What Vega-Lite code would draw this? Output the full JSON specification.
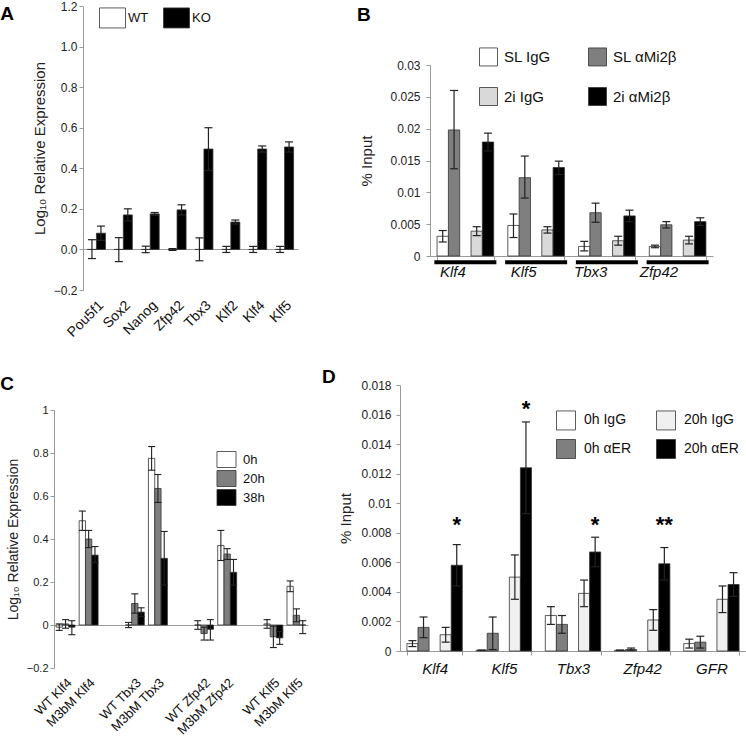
{
  "$schema": "https://vega.github.io/schema/vega-lite/v6.json",
  "padding": {"left": 0, "top": 0, "right": 0, "bottom": 0},
  "config": {
    "view": {"stroke": null},
    "font": "Liberation Sans",
    "axis": {"labelFont": "Liberation Sans", "titleFont": "Liberation Sans", "labelColor": "#222", "titleColor": "#222", "domainColor": "#9a9a9a", "tickColor": "#9a9a9a", "grid": false, "titleFontWeight": "normal", "labelFontSize": 12, "tickSize": 4, "labelOverlap": false},
    "axisY": {"labelOverlap": false, "labelSeparation": -40},
    "axisQuantitative": {"labelOverlap": false},
    "legend": {"labelFont": "Liberation Sans", "labelColor": "#111"},
    "title": {"font": "Liberation Sans", "fontSize": 19, "fontWeight": "bold", "anchor": "start", "color": "#000"},
    "bar": {"stroke": "#333", "strokeWidth": 0.8},
    "tick": {"opacity": 1},
    "rule": {"opacity": 1}
  },
  "datasets": {
    "a": [
      {"gene": "Pou5f1", "series": "WT", "value": 0, "lo": -0.045, "hi": 0.048},
      {"gene": "Pou5f1", "series": "KO", "value": 0.08, "lo": 0.045, "hi": 0.115},
      {"gene": "Sox2", "series": "WT", "value": 0, "lo": -0.06, "hi": 0.058},
      {"gene": "Sox2", "series": "KO", "value": 0.17, "lo": 0.14, "hi": 0.2},
      {"gene": "Nanog", "series": "WT", "value": 0, "lo": -0.016, "hi": 0.016},
      {"gene": "Nanog", "series": "KO", "value": 0.175, "lo": 0.168, "hi": 0.182},
      {"gene": "Zfp42", "series": "WT", "value": 0, "lo": -0.005, "hi": 0.004},
      {"gene": "Zfp42", "series": "KO", "value": 0.195, "lo": 0.17, "hi": 0.22},
      {"gene": "Tbx3", "series": "WT", "value": 0, "lo": -0.056, "hi": 0.057},
      {"gene": "Tbx3", "series": "KO", "value": 0.495, "lo": 0.39, "hi": 0.6},
      {"gene": "Klf2", "series": "WT", "value": 0, "lo": -0.015, "hi": 0.015},
      {"gene": "Klf2", "series": "KO", "value": 0.135, "lo": 0.125, "hi": 0.145},
      {"gene": "Klf4", "series": "WT", "value": 0, "lo": -0.015, "hi": 0.015},
      {"gene": "Klf4", "series": "KO", "value": 0.495, "lo": 0.48, "hi": 0.51},
      {"gene": "Klf5", "series": "WT", "value": 0, "lo": -0.015, "hi": 0.015},
      {"gene": "Klf5", "series": "KO", "value": 0.505, "lo": 0.48, "hi": 0.53}
    ],
    "b": [
      {"gene": "Klf4", "series": "SL IgG", "value": 0.0031, "lo": 0.0022, "hi": 0.004},
      {"gene": "Klf4", "series": "SL αMi2β", "value": 0.0198, "lo": 0.0137, "hi": 0.026},
      {"gene": "Klf4", "series": "2i IgG", "value": 0.0039, "lo": 0.0032, "hi": 0.0046},
      {"gene": "Klf4", "series": "2i αMi2β", "value": 0.0179, "lo": 0.0165, "hi": 0.0193},
      {"gene": "Klf5", "series": "SL IgG", "value": 0.0048, "lo": 0.0029, "hi": 0.0066},
      {"gene": "Klf5", "series": "SL αMi2β", "value": 0.0123, "lo": 0.0091, "hi": 0.0157},
      {"gene": "Klf5", "series": "2i IgG", "value": 0.0041, "lo": 0.0036, "hi": 0.0046},
      {"gene": "Klf5", "series": "2i αMi2β", "value": 0.0139, "lo": 0.0128, "hi": 0.0149},
      {"gene": "Tbx3", "series": "SL IgG", "value": 0.0015, "lo": 0.0008, "hi": 0.0023},
      {"gene": "Tbx3", "series": "SL αMi2β", "value": 0.0068, "lo": 0.0053, "hi": 0.0083},
      {"gene": "Tbx3", "series": "2i IgG", "value": 0.0024, "lo": 0.0017, "hi": 0.0031},
      {"gene": "Tbx3", "series": "2i αMi2β", "value": 0.0063, "lo": 0.0054, "hi": 0.0072},
      {"gene": "Zfp42", "series": "SL IgG", "value": 0.0015, "lo": 0.0013, "hi": 0.0017},
      {"gene": "Zfp42", "series": "SL αMi2β", "value": 0.0049, "lo": 0.0044, "hi": 0.0054},
      {"gene": "Zfp42", "series": "2i IgG", "value": 0.0025, "lo": 0.0019, "hi": 0.0031},
      {"gene": "Zfp42", "series": "2i αMi2β", "value": 0.0054, "lo": 0.0048, "hi": 0.006}
    ],
    "c": [
      {"slot": "WT Klf4", "series": "0h", "value": -0.01, "lo": -0.025, "hi": 0.005},
      {"slot": "WT Klf4", "series": "20h", "value": 0.005, "lo": -0.015, "hi": 0.025},
      {"slot": "WT Klf4", "series": "38h", "value": -0.01, "lo": -0.045, "hi": 0.02},
      {"slot": "M3bM Klf4", "series": "0h", "value": 0.485, "lo": 0.44, "hi": 0.53},
      {"slot": "M3bM Klf4", "series": "20h", "value": 0.4, "lo": 0.36, "hi": 0.44},
      {"slot": "M3bM Klf4", "series": "38h", "value": 0.325, "lo": 0.29, "hi": 0.365},
      {"slot": "WT Tbx3", "series": "0h", "value": 0.0, "lo": -0.012, "hi": 0.012},
      {"slot": "WT Tbx3", "series": "20h", "value": 0.1, "lo": 0.055, "hi": 0.145},
      {"slot": "WT Tbx3", "series": "38h", "value": 0.06, "lo": 0.04, "hi": 0.08},
      {"slot": "M3bM Tbx3", "series": "0h", "value": 0.775, "lo": 0.72, "hi": 0.83},
      {"slot": "M3bM Tbx3", "series": "20h", "value": 0.635, "lo": 0.57, "hi": 0.7},
      {"slot": "M3bM Tbx3", "series": "38h", "value": 0.31, "lo": 0.185, "hi": 0.435},
      {"slot": "WT Zfp42", "series": "0h", "value": 0.0, "lo": -0.02, "hi": 0.02},
      {"slot": "WT Zfp42", "series": "20h", "value": -0.04, "lo": -0.07, "hi": -0.01},
      {"slot": "WT Zfp42", "series": "38h", "value": -0.02, "lo": -0.07, "hi": 0.025},
      {"slot": "M3bM Zfp42", "series": "0h", "value": 0.37, "lo": 0.3, "hi": 0.44},
      {"slot": "M3bM Zfp42", "series": "20h", "value": 0.33, "lo": 0.305, "hi": 0.355},
      {"slot": "M3bM Zfp42", "series": "38h", "value": 0.245, "lo": 0.185, "hi": 0.305},
      {"slot": "WT Klf5", "series": "0h", "value": 0.005, "lo": -0.015, "hi": 0.025},
      {"slot": "WT Klf5", "series": "20h", "value": -0.055, "lo": -0.105, "hi": -0.005},
      {"slot": "WT Klf5", "series": "38h", "value": -0.06, "lo": -0.09, "hi": -0.03},
      {"slot": "M3bM Klf5", "series": "0h", "value": 0.18, "lo": 0.155, "hi": 0.205},
      {"slot": "M3bM Klf5", "series": "20h", "value": 0.045, "lo": 0.015, "hi": 0.075},
      {"slot": "M3bM Klf5", "series": "38h", "value": 0.0, "lo": -0.04, "hi": 0.02}
    ],
    "d": [
      {"gene": "Klf4", "series": "0h IgG", "value": 0.0005, "lo": 0.0003, "hi": 0.0007},
      {"gene": "Klf4", "series": "0h αER", "value": 0.0016, "lo": 0.0009, "hi": 0.0023},
      {"gene": "Klf4", "series": "20h IgG", "value": 0.0011, "lo": 0.0006, "hi": 0.0016},
      {"gene": "Klf4", "series": "20h αER", "value": 0.0058, "lo": 0.0044, "hi": 0.0072},
      {"gene": "Klf5", "series": "0h IgG", "value": 0.00005, "lo": 0.00005, "hi": 0.00005},
      {"gene": "Klf5", "series": "0h αER", "value": 0.0012, "lo": 0.0001, "hi": 0.0023},
      {"gene": "Klf5", "series": "20h IgG", "value": 0.005, "lo": 0.0035, "hi": 0.0065},
      {"gene": "Klf5", "series": "20h αER", "value": 0.0124, "lo": 0.0093, "hi": 0.0155},
      {"gene": "Tbx3", "series": "0h IgG", "value": 0.0024, "lo": 0.0018, "hi": 0.003},
      {"gene": "Tbx3", "series": "0h αER", "value": 0.0018, "lo": 0.0012, "hi": 0.0024},
      {"gene": "Tbx3", "series": "20h IgG", "value": 0.0039, "lo": 0.003, "hi": 0.0048},
      {"gene": "Tbx3", "series": "20h αER", "value": 0.0067, "lo": 0.0057, "hi": 0.0077},
      {"gene": "Zfp42", "series": "0h IgG", "value": 0.00005, "lo": 0.00005, "hi": 0.00005},
      {"gene": "Zfp42", "series": "0h αER", "value": 0.0001, "lo": 0.00005, "hi": 0.0002},
      {"gene": "Zfp42", "series": "20h IgG", "value": 0.0021, "lo": 0.0014, "hi": 0.0028},
      {"gene": "Zfp42", "series": "20h αER", "value": 0.0059, "lo": 0.0048, "hi": 0.007},
      {"gene": "GFR", "series": "0h IgG", "value": 0.0005, "lo": 0.0002, "hi": 0.0008},
      {"gene": "GFR", "series": "0h αER", "value": 0.0006, "lo": 0.0002, "hi": 0.001},
      {"gene": "GFR", "series": "20h IgG", "value": 0.0035, "lo": 0.0026, "hi": 0.0044},
      {"gene": "GFR", "series": "20h αER", "value": 0.0045, "lo": 0.0037, "hi": 0.0053}
    ],
    "dstars": [
      {"gene": "Klf4", "series": "20h αER", "y": 0.0085, "label": "*"},
      {"gene": "Klf5", "series": "20h αER", "y": 0.0164, "label": "*"},
      {"gene": "Tbx3", "series": "20h αER", "y": 0.0085, "label": "*"},
      {"gene": "Zfp42", "series": "20h αER", "y": 0.0085, "label": "**"}
    ]
  },
  "bounds": "flush",
  "spacing": 379,
  "resolve": {"scale": {"fill": "independent", "xOffset": "independent", "x": "independent", "y": "independent"}, "legend": {"fill": "independent"}},
  "vconcat": [
    {
      "bounds": "flush",
      "spacing": 28,
      "resolve": {"scale": {"fill": "independent", "xOffset": "independent", "x": "independent", "y": "independent"}, "legend": {"fill": "independent"}},
      "hconcat": [
        {"width": 1, "height": 1, "data": {"values": []}, "mark": {"type": "point", "opacity": 0}, "encoding": {}},
        {
          "bounds": "flush",
          "spacing": 132,
          "resolve": {"scale": {"fill": "independent", "xOffset": "independent", "x": "independent", "y": "independent"}, "legend": {"fill": "independent"}},
          "hconcat": [
            {
              "width": 215, "height": 284,
              "title": {"text": "A", "dx": -32, "dy": 24, "offset": 0},
              "data": {"name": "a"},
              "layer": [
                {
                  "mark": {"type": "bar"},
                  "encoding": {
                    "x": {"field": "gene", "type": "nominal", "sort": ["Pou5f1", "Sox2", "Nanog", "Zfp42", "Tbx3", "Klf2", "Klf4", "Klf5"], "scale": {"paddingInner": 0.33, "paddingOuter": 0.165}, "axis": {"title": null, "labelAngle": -45, "domain": false, "ticks": false, "labelFontSize": 14, "labelPadding": 8, "labelColor": "#111"}},
                    "xOffset": {"field": "series", "type": "nominal", "scale": {"domain": ["WT", "KO"]}},
                    "y": {"field": "value", "type": "quantitative", "scale": {"domain": [-0.2, 1.2], "nice": false}, "axis": {"values": [-0.2, 0, 0.2, 0.4, 0.6, 0.8, 1.0, 1.2], "format": ".1f", "labelOverlap": false, "title": "Log₁₀ Relative Expression", "titleFontSize": 15, "titlePadding": 6, "grid": true, "gridColor": "#9a9a9a", "gridOpacity": {"condition": {"test": "datum.value === 0", "value": 1}, "value": 0}}},
                    "fill": {"field": "series", "type": "nominal", "scale": {"domain": ["WT", "KO"], "range": ["#ffffff", "#000000"]}, "legend": {"title": null, "orient": "none", "legendX": 19, "legendY": 1, "direction": "horizontal", "columns": 2, "symbolType": "M-1.3,-1H1.3V1H-1.3Z", "symbolSize": 400, "symbolStrokeColor": "#333", "symbolStrokeWidth": 1, "labelFontSize": 13, "labelOffset": 5, "columnPadding": 12}}
                  }
                },
                {
                  "mark": {"type": "rule", "color": "#222", "strokeWidth": 1.2},
                  "encoding": {
                    "x": {"field": "gene", "type": "nominal", "sort": ["Pou5f1", "Sox2", "Nanog", "Zfp42", "Tbx3", "Klf2", "Klf4", "Klf5"]},
                    "xOffset": {"field": "series", "type": "nominal"},
                    "y": {"field": "lo", "type": "quantitative", "title": "Log₁₀ Relative Expression"},
                    "y2": {"field": "hi"}
                  }
                },
                {
                  "mark": {"type": "tick", "color": "#222", "thickness": 1.2, "size": 8},
                  "encoding": {
                    "x": {"field": "gene", "type": "nominal", "sort": ["Pou5f1", "Sox2", "Nanog", "Zfp42", "Tbx3", "Klf2", "Klf4", "Klf5"]},
                    "xOffset": {"field": "series", "type": "nominal"},
                    "y": {"field": "lo", "type": "quantitative", "title": "Log₁₀ Relative Expression"}
                  }
                },
                {
                  "mark": {"type": "tick", "color": "#222", "thickness": 1.2, "size": 8},
                  "encoding": {
                    "x": {"field": "gene", "type": "nominal", "sort": ["Pou5f1", "Sox2", "Nanog", "Zfp42", "Tbx3", "Klf2", "Klf4", "Klf5"]},
                    "xOffset": {"field": "series", "type": "nominal"},
                    "y": {"field": "hi", "type": "quantitative", "title": "Log₁₀ Relative Expression"}
                  }
                }
              ]
            },
            {
              "bounds": "flush",
              "spacing": 58,
              "resolve": {"scale": {"fill": "independent", "xOffset": "independent", "x": "independent", "y": "independent"}, "legend": {"fill": "independent"}},
              "vconcat": [
                {"width": 1, "height": 1, "data": {"values": []}, "mark": {"type": "point", "opacity": 0}, "encoding": {}},
                {
                  "width": 283, "height": 191,
                  "title": {"text": "B", "dx": -3, "offset": 22},
                  "data": {"name": "b"},
                  "layer": [
                    {
                      "transform": [{"filter": "datum.series === 'SL IgG'"}],
                      "mark": {"type": "tick", "color": "#000", "thickness": 4, "size": 62},
                      "encoding": {
                        "x": {"field": "gene", "type": "nominal", "sort": ["Klf4", "Klf5", "Tbx3", "Zfp42"]},
                        "y": {"datum": -0.001, "type": "quantitative", "axis": {"values": [0, 0.005, 0.01, 0.015, 0.02, 0.025, 0.03], "format": "~g", "labelOverlap": false, "title": "% Input"}}
                      }
                    },
                    {
                      "mark": {"type": "bar"},
                      "encoding": {
                        "x": {"field": "gene", "type": "nominal", "sort": ["Klf4", "Klf5", "Tbx3", "Zfp42"], "scale": {"paddingInner": 0.2, "paddingOuter": 0.1}, "axis": {"title": null, "labelAngle": 0, "labelFontSize": 15, "labelFontStyle": "italic", "labelColor": "#111", "tickBand": "extent", "labelPadding": 11}},
                        "xOffset": {"field": "series", "type": "nominal", "scale": {"domain": ["SL IgG", "SL αMi2β", "gap", "2i IgG", "2i αMi2β"], "paddingInner": 0, "paddingOuter": 0}},
                        "y": {"field": "value", "type": "quantitative", "scale": {"domain": [0, 0.03], "nice": false}, "axis": {"values": [0, 0.005, 0.01, 0.015, 0.02, 0.025, 0.03], "format": "~g", "labelOverlap": false, "title": "% Input", "titleFontSize": 15, "titlePadding": 15, "labelPadding": 6}},
                        "fill": {"field": "series", "type": "nominal", "scale": {"domain": ["SL IgG", "2i IgG", "SL αMi2β", "2i αMi2β"], "range": ["#ffffff", "#d9d9d9", "#7f7f7f", "#000000"]}, "legend": {"title": null, "orient": "none", "legendX": 49, "legendY": -18, "columns": 2, "symbolType": "square", "symbolSize": 324, "symbolStrokeColor": "#333", "symbolStrokeWidth": 1, "labelFontSize": 15, "labelOffset": 6, "rowPadding": 17, "columnPadding": 35}}
                      }
                    },
                    {
                      "mark": {"type": "rule", "color": "#222", "strokeWidth": 1.2},
                      "encoding": {
                        "x": {"field": "gene", "type": "nominal", "sort": ["Klf4", "Klf5", "Tbx3", "Zfp42"]},
                        "xOffset": {"field": "series", "type": "nominal"},
                        "y": {"field": "lo", "type": "quantitative", "axis": {"values": [0, 0.005, 0.01, 0.015, 0.02, 0.025, 0.03], "format": "~g", "labelOverlap": false, "title": "% Input"}},
                        "y2": {"field": "hi"}
                      }
                    },
                    {
                      "mark": {"type": "tick", "color": "#222", "thickness": 1.2, "size": 8},
                      "encoding": {
                        "x": {"field": "gene", "type": "nominal", "sort": ["Klf4", "Klf5", "Tbx3", "Zfp42"]},
                        "xOffset": {"field": "series", "type": "nominal"},
                        "y": {"field": "lo", "type": "quantitative", "axis": {"values": [0, 0.005, 0.01, 0.015, 0.02, 0.025, 0.03], "format": "~g", "labelOverlap": false, "title": "% Input"}}
                      }
                    },
                    {
                      "mark": {"type": "tick", "color": "#222", "thickness": 1.2, "size": 8},
                      "encoding": {
                        "x": {"field": "gene", "type": "nominal", "sort": ["Klf4", "Klf5", "Tbx3", "Zfp42"]},
                        "xOffset": {"field": "series", "type": "nominal"},
                        "y": {"field": "hi", "type": "quantitative", "axis": {"values": [0, 0.005, 0.01, 0.015, 0.02, 0.025, 0.03], "format": "~g", "labelOverlap": false, "title": "% Input"}}
                      }
                    }
                  ]
                }
              ]
            }
          ]
        }
      ]
    },
    {
      "bounds": "flush",
      "spacing": 346,
      "resolve": {"scale": {"fill": "independent", "xOffset": "independent", "x": "independent", "y": "independent"}, "legend": {"fill": "independent"}},
      "hconcat": [
        {
          "bounds": "flush",
          "spacing": 24,
          "resolve": {"scale": {"fill": "independent", "xOffset": "independent", "x": "independent", "y": "independent"}, "legend": {"fill": "independent"}},
          "vconcat": [
            {"width": 1, "height": 1, "data": {"values": []}, "mark": {"type": "point", "opacity": 0}, "encoding": {}},
            {
              "width": 254, "height": 258,
              "title": {"text": "C", "dx": -6, "offset": 10},
              "data": {"name": "c"},
              "layer": [
                {
                  "mark": {"type": "bar"},
                  "encoding": {
                    "x": {"field": "slot", "type": "nominal", "scale": {"domain": ["WT Klf4", "M3bM Klf4", "gap1", "WT Tbx3", "M3bM Tbx3", "gap2", "WT Zfp42", "M3bM Zfp42", "gap3", "WT Klf5", "M3bM Klf5"], "paddingInner": 0.18, "paddingOuter": 0.09}, "axis": {"title": null, "labelAngle": -45, "domain": false, "ticks": false, "labelFontSize": 13, "labelPadding": 8, "labelColor": "#111", "labelExpr": "indexof(datum.value, 'gap') === 0 ? '' : datum.value"}},
                    "xOffset": {"field": "series", "type": "nominal", "scale": {"domain": ["0h", "20h", "38h"]}},
                    "y": {"field": "value", "type": "quantitative", "scale": {"domain": [-0.2, 1], "nice": false}, "axis": {"values": [-0.2, 0, 0.2, 0.4, 0.6, 0.8, 1], "format": "~g", "labelOverlap": false, "title": "Log₁₀ Relative Expression", "titleFontSize": 14, "titlePadding": 6, "labelFontSize": 11, "grid": true, "gridColor": "#9a9a9a", "gridOpacity": {"condition": {"test": "datum.value === 0", "value": 1}, "value": 0}}},
                    "fill": {"field": "series", "type": "nominal", "scale": {"domain": ["0h", "20h", "38h"], "range": ["#ffffff", "#7f7f7f", "#000000"]}, "legend": {"title": null, "orient": "none", "legendX": 164, "legendY": 41, "symbolType": "M-1.19,-1H1.19V1H-1.19Z", "symbolSize": 256, "symbolStrokeColor": "#333", "symbolStrokeWidth": 1, "labelFontSize": 13, "labelOffset": 8, "rowPadding": -2}}
                  }
                },
                {
                  "mark": {"type": "rule", "color": "#222", "strokeWidth": 1.1},
                  "encoding": {
                    "x": {"field": "slot", "type": "nominal"},
                    "xOffset": {"field": "series", "type": "nominal"},
                    "y": {"field": "lo", "type": "quantitative", "title": "Log₁₀ Relative Expression"},
                    "y2": {"field": "hi"}
                  }
                },
                {
                  "mark": {"type": "tick", "color": "#222", "thickness": 1.1, "size": 7},
                  "encoding": {
                    "x": {"field": "slot", "type": "nominal"},
                    "xOffset": {"field": "series", "type": "nominal"},
                    "y": {"field": "lo", "type": "quantitative", "title": "Log₁₀ Relative Expression"}
                  }
                },
                {
                  "mark": {"type": "tick", "color": "#222", "thickness": 1.1, "size": 7},
                  "encoding": {
                    "x": {"field": "slot", "type": "nominal"},
                    "xOffset": {"field": "series", "type": "nominal"},
                    "y": {"field": "hi", "type": "quantitative", "title": "Log₁₀ Relative Expression"}
                  }
                }
              ]
            }
          ]
        },
        {
          "width": 346, "height": 266,
          "title": {"text": "D", "dx": -17, "dy": 8, "offset": 0},
          "data": {"name": "d"},
          "layer": [
            {
              "mark": {"type": "bar"},
              "encoding": {
                "x": {"field": "gene", "type": "nominal", "sort": ["Klf4", "Klf5", "Tbx3", "Zfp42", "GFR"], "scale": {"paddingInner": 0.2, "paddingOuter": 0.1}, "axis": {"title": null, "labelAngle": 0, "labelFontSize": 15, "labelFontStyle": "italic", "labelColor": "#111", "tickBand": "extent", "labelPadding": 6}},
                "xOffset": {"field": "series", "type": "nominal", "scale": {"domain": ["0h IgG", "0h αER", "gap", "20h IgG", "20h αER"], "paddingInner": 0, "paddingOuter": 0}},
                "y": {"field": "value", "type": "quantitative", "scale": {"domain": [0, 0.018], "nice": false}, "axis": {"values": [0, 0.002, 0.004, 0.006, 0.008, 0.01, 0.012, 0.014, 0.016, 0.018], "format": "~g", "labelOverlap": false, "title": "% Input", "titleFontSize": 15, "titlePadding": 7, "labelPadding": 5}},
                "fill": {"field": "series", "type": "nominal", "scale": {"domain": ["0h IgG", "0h αER", "20h IgG", "20h αER"], "range": ["#ffffff", "#7f7f7f", "#f0f0f0", "#000000"]}, "legend": {"title": null, "orient": "none", "legendX": 156, "legendY": 25, "columns": 2, "symbolType": "square", "symbolSize": 361, "symbolStrokeColor": "#333", "symbolStrokeWidth": 1, "labelFontSize": 14, "labelOffset": 8, "rowPadding": 5, "columnPadding": 22}}
              }
            },
            {
              "mark": {"type": "rule", "color": "#222", "strokeWidth": 1.2},
              "encoding": {
                "x": {"field": "gene", "type": "nominal", "sort": ["Klf4", "Klf5", "Tbx3", "Zfp42", "GFR"]},
                "xOffset": {"field": "series", "type": "nominal"},
                "y": {"field": "lo", "type": "quantitative", "axis": {"values": [0, 0.002, 0.004, 0.006, 0.008, 0.01, 0.012, 0.014, 0.016, 0.018], "format": "~g", "labelOverlap": false, "title": "% Input"}},
                "y2": {"field": "hi"}
              }
            },
            {
              "mark": {"type": "tick", "color": "#222", "thickness": 1.2, "size": 8},
              "encoding": {
                "x": {"field": "gene", "type": "nominal", "sort": ["Klf4", "Klf5", "Tbx3", "Zfp42", "GFR"]},
                "xOffset": {"field": "series", "type": "nominal"},
                "y": {"field": "lo", "type": "quantitative", "axis": {"values": [0, 0.002, 0.004, 0.006, 0.008, 0.01, 0.012, 0.014, 0.016, 0.018], "format": "~g", "labelOverlap": false, "title": "% Input"}}
              }
            },
            {
              "mark": {"type": "tick", "color": "#222", "thickness": 1.2, "size": 8},
              "encoding": {
                "x": {"field": "gene", "type": "nominal", "sort": ["Klf4", "Klf5", "Tbx3", "Zfp42", "GFR"]},
                "xOffset": {"field": "series", "type": "nominal"},
                "y": {"field": "hi", "type": "quantitative", "axis": {"values": [0, 0.002, 0.004, 0.006, 0.008, 0.01, 0.012, 0.014, 0.016, 0.018], "format": "~g", "labelOverlap": false, "title": "% Input"}}
              }
            },
            {
              "data": {"name": "dstars"},
              "mark": {"type": "text", "fontSize": 22, "fontWeight": "bold", "baseline": "middle", "color": "#000"},
              "encoding": {
                "x": {"field": "gene", "type": "nominal", "sort": ["Klf4", "Klf5", "Tbx3", "Zfp42", "GFR"]},
                "xOffset": {"field": "series", "type": "nominal"},
                "y": {"field": "y", "type": "quantitative", "axis": {"values": [0, 0.002, 0.004, 0.006, 0.008, 0.01, 0.012, 0.014, 0.016, 0.018], "format": "~g", "labelOverlap": false, "title": "% Input"}},
                "text": {"field": "label"}
              }
            }
          ]
        }
      ]
    }
  ]
}
